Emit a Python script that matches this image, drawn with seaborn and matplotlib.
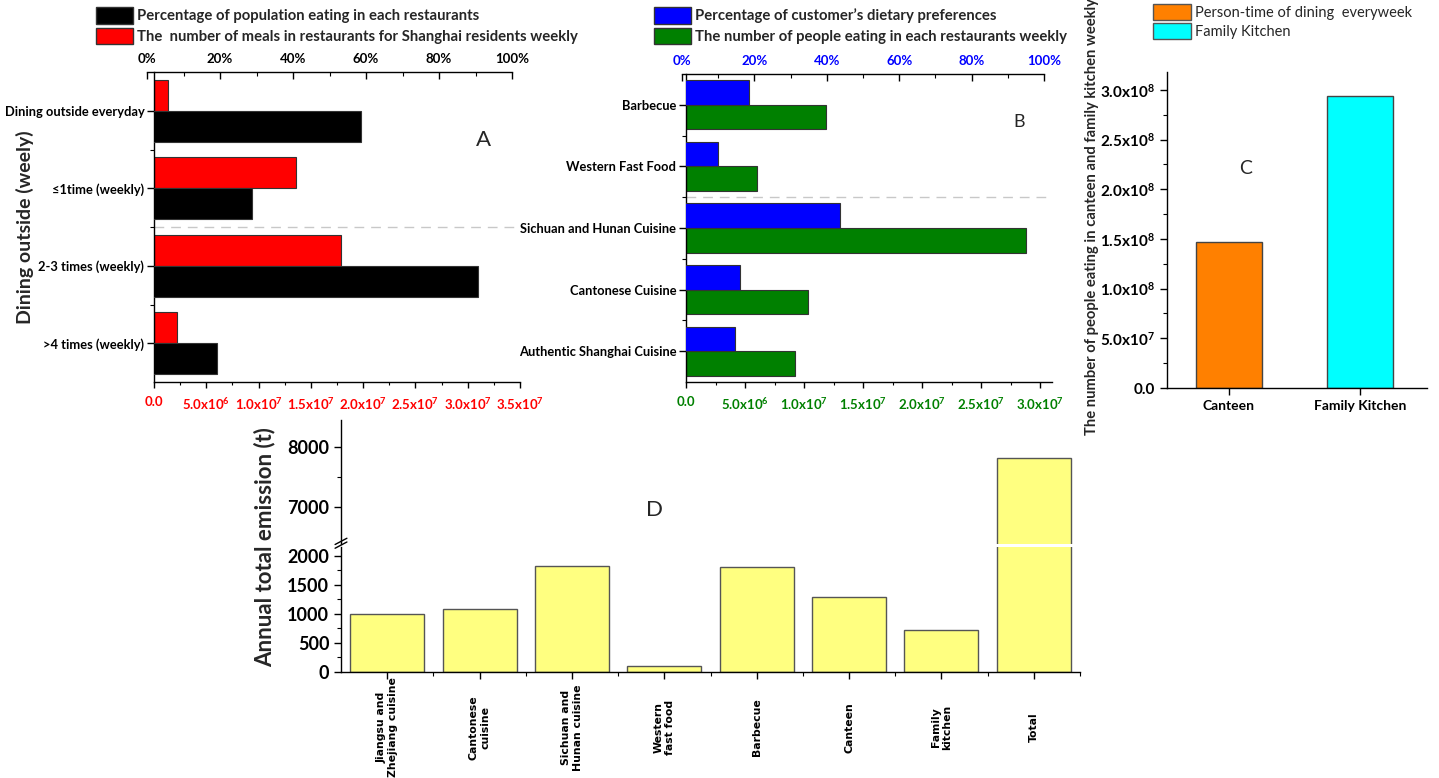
import numpy as np
import pandas as pd
import matplotlib
matplotlib.use("Agg")
import matplotlib.pyplot as plt
import seaborn as sns
from matplotlib.patches import Patch
from matplotlib.ticker import FixedLocator, MultipleLocator

# ---------------- data ----------------
a_categories = ["Dining outside everyday", "≤1time (weekly)", "2-3 times (weekly)", ">4 times (weekly)"]
a_percent_population = [58.7, 28.8, 90.6, 19.2]
a_meals_weekly = [1.35e6, 1.36e7, 1.79e7, 2.16e6]
a_top_ticks = [0, 20, 40, 60, 80, 100]
a_top_ticklabels = ["0%", "20%", "40%", "60%", "80%", "100%"]
a_bottom_ticks = [0, 5e6, 1e7, 1.5e7, 2e7, 2.5e7, 3e7, 3.5e7]
a_bottom_ticklabels = ["0.0", "5.0x10$^{6}$", "1.0x10$^{7}$", "1.5x10$^{7}$", "2.0x10$^{7}$",
                       "2.5x10$^{7}$", "3.0x10$^{7}$", "3.5x10$^{7}$"]

b_categories = ["Barbecue", "Western Fast Food", "Sichuan and Hunan Cuisine", "Cantonese Cuisine",
                "Authentic Shanghai Cuisine"]
b_percent_preference = [18.6, 9.9, 43.6, 16.1, 14.7]
b_people_weekly = [1.19e7, 6.05e6, 2.88e7, 1.03e7, 9.25e6]
b_top_ticks = [0, 20, 40, 60, 80, 100]
b_top_ticklabels = ["0%", "20%", "40%", "60%", "80%", "100%"]
b_bottom_ticks = [0, 5e6, 1e7, 1.5e7, 2e7, 2.5e7, 3e7]
b_bottom_ticklabels = ["0.0", "5.0x10$^{6}$", "1.0x10$^{7}$", "1.5x10$^{7}$", "2.0x10$^{7}$",
                       "2.5x10$^{7}$", "3.0x10$^{7}$"]

c_categories = ["Canteen", "Family Kitchen"]
c_people_weekly = [1.468e8, 2.943e8]
c_legend_labels = ["Person-time of dining  everyweek", "Family Kitchen"]
c_ticks = [0, 5e7, 1e8, 1.5e8, 2e8, 2.5e8, 3e8]
c_ticklabels = ["0.0", "5.0x10$^{7}$", "1.0x10$^{8}$", "1.5x10$^{8}$", "2.0x10$^{8}$",
                "2.5x10$^{8}$", "3.0x10$^{8}$"]

d_categories = ["Jiangsu and\nZhejiang cuisine", "Cantonese\ncuisine", "Sichuan and\nHunan cuisine",
                "Western\nfast food", "Barbecue", "Canteen", "Family\nkitchen", "Total"]
d_emission = [990, 1085, 1820, 95, 1805, 1285, 725, 7815]
d_low_ticks = [0, 500, 1000, 1500, 2000]
d_high_ticks = [7000, 8000]

# ---------------- style ----------------
sns.set_theme(style="ticks")
plt.rcParams["font.family"] = ["Lato", "DejaVu Sans"]
plt.rcParams.update({
    "mathtext.fontset": "custom",
    "mathtext.rm": "Lato",
    "mathtext.bf": "Lato:bold",
    "mathtext.default": "bf",
    "axes.edgecolor": "black",
    "axes.linewidth": 1.0,
    "xtick.color": "black",
    "ytick.color": "black",
    "xtick.major.size": 5, "ytick.major.size": 5,
    "xtick.minor.size": 3, "ytick.minor.size": 3,
    "xtick.major.width": 1, "ytick.major.width": 1,
    "xtick.minor.width": 0.8, "ytick.minor.width": 0.8,
})

W, H = 1439, 778
fig = plt.figure(figsize=(W / 100, H / 100), dpi=100)
fig.patch.set_facecolor("white")


def add_ax(l, t, r, b, **kw):
    return fig.add_axes([l / W, 1 - b / H, (r - l) / W, (b - t) / H], **kw)


EDGE = "#333333"


def hbar_panel(l, t, r, b, top_l, top_r, cats, pct, counts, pct_color, cnt_color,
               xmax, bticks, blabels, tticks, tlabels, top_label_color, bottom_label_color,
               fs_cat, pct_on_top):
    ax = add_ax(l, t, r, b)
    axt = add_ax(top_l, t, top_r, b, sharey=ax)
    y = np.arange(len(cats))
    off = -0.2 if pct_on_top else 0.2
    ax.barh(y - off, counts, height=0.4, color=cnt_color, edgecolor=EDGE, linewidth=0.8)
    bars = axt.barh(y + off, pct, height=0.4, color=pct_color, edgecolor=EDGE, linewidth=0.8)
    for p in bars:
        p.set_clip_path(ax.patch)
    ax.axhline(1.5, color="#c8c8c8", lw=1, ls=(0, (7, 5)), zorder=0)
    ax.set_ylim(len(cats) - 0.5, -0.5)
    ax.set_xlim(0, xmax)
    ax.set_yticks(y)
    ax.set_yticklabels(cats, fontsize=fs_cat, fontweight="bold")
    ax.yaxis.set_minor_locator(FixedLocator(y[:-1] + 0.5))
    ax.set_xticks(bticks)
    ax.set_xticklabels(blabels, fontsize=9.5, fontweight="bold", color=bottom_label_color)
    ax.xaxis.set_minor_locator(MultipleLocator(bticks[1] / 2))
    ax.tick_params(axis="x", which="major", direction="out", length=4, pad=6)
    ax.tick_params(axis="x", which="minor", direction="out", length=2.5)
    ax.tick_params(axis="y", which="both", direction="out", pad=2)
    for s in ["top", "right"]:
        ax.spines[s].set_visible(False)
    # top percentage axis
    axt.patch.set_visible(False)
    axt.set_xlim(0, 100)
    for s in ["left", "right", "bottom"]:
        axt.spines[s].set_visible(False)
    axt.xaxis.tick_top()
    axt.set_xticks(tticks)
    axt.set_xticklabels(tlabels, fontsize=9.5, fontweight="bold", color=top_label_color)
    axt.xaxis.set_minor_locator(MultipleLocator(10))
    axt.tick_params(axis="x", which="both", direction="in", pad=5)
    axt.tick_params(axis="y", which="both", left=False, labelleft=False)
    return ax, axt


# ---------------- Panel A ----------------
axA, axAt = hbar_panel(154, 72, 520, 382, 147, 512, a_categories, a_percent_population, a_meals_weekly,
                       "black", "#FF0000", 3.5e7, a_bottom_ticks, a_bottom_ticklabels,
                       a_top_ticks, a_top_ticklabels, "black", "#FF0000", 9.3, False)

# ---------------- Panel B ----------------
axB, axBt = hbar_panel(686, 74, 1052, 382, 682, 1044, b_categories, b_percent_preference, b_people_weekly,
                       "#0000FF", "#008000", 3.1e7, b_bottom_ticks, b_bottom_ticklabels,
                       b_top_ticks, b_top_ticklabels, "#0000FF", "#008000", 9.3, True)

# ---------------- Panel C ----------------
axC = add_ax(1167, 72, 1427, 388)
sns.barplot(x=c_categories, y=c_people_weekly, hue=c_categories, palette=["#FF8000", "#00FFFF"],
            saturation=1, width=0.5, edgecolor="#444444", linewidth=1, legend=False, ax=axC)
axC.set_xlim(-0.47, 1.51)
axC.set_ylim(0, 3.18e8)
axC.set_yticks(c_ticks)
axC.set_yticklabels(c_ticklabels, fontsize=11, fontweight="bold")
axC.yaxis.set_minor_locator(MultipleLocator(2.5e7))
axC.set_xticks(range(len(c_categories)))
axC.set_xticklabels(c_categories, fontsize=10, fontweight="bold")
axC.set_xlabel("")
axC.set_ylabel("")
axC.tick_params(axis="both", which="both", direction="out")
for s in ["top", "right"]:
    axC.spines[s].set_visible(False)

# ---------------- Panel D (broken axis) ----------------
ax_hi = add_ax(341, 420, 1080, 544)
ax_lo = add_ax(341, 547, 1080, 672)
for ax in (ax_hi, ax_lo):
    sns.barplot(x=d_categories, y=d_emission, color="#FFFF80", saturation=1, width=0.8,
                edgecolor="#555555", linewidth=1, ax=ax)
    ax.set_xlim(-0.5, len(d_categories) - 0.5)
    ax.set_xlabel("")
    ax.set_ylabel("")
    for s in ["top", "right"]:
        ax.spines[s].set_visible(False)
    ax.tick_params(axis="both", which="both", direction="out")

ax_hi.set_ylim(6380, 8445)
ax_hi.set_yticks(d_high_ticks)
ax_hi.set_yticklabels([str(v) for v in d_high_ticks], fontsize=13, fontweight="bold")
ax_hi.yaxis.set_minor_locator(FixedLocator([7500]))
ax_hi.spines["bottom"].set_visible(False)
ax_hi.tick_params(axis="x", which="both", bottom=False, labelbottom=False)

ax_lo.set_ylim(0, 2150)
ax_lo.set_yticks(d_low_ticks)
ax_lo.set_yticklabels([str(v) for v in d_low_ticks], fontsize=13, fontweight="bold")
ax_lo.yaxis.set_minor_locator(MultipleLocator(250))
ax_lo.set_xticks(range(len(d_categories)))
ax_lo.set_xticklabels(d_categories, rotation=90, fontsize=7.8, fontweight="bold",
                      family="DejaVu Sans", ha="center", va="center")
ax_lo.tick_params(axis="x", which="major", pad=35)
ax_lo.xaxis.set_minor_locator(FixedLocator(np.arange(len(d_categories)) + 0.5))
for dy in (0.0, 0.03):
    ax_lo.plot([-0.008, 0.008], [1.0 + dy - 0.01, 1.0 + dy + 0.04], transform=ax_lo.transAxes,
               color="black", lw=1, clip_on=False)

# ---------------- legends ----------------
leg_kw = dict(frameon=False, borderpad=0, borderaxespad=0, handlelength=2.5, handleheight=1.34,
              handletextpad=0.28, labelspacing=0.27, loc="upper left")
fig.legend([Patch(fc="black", ec=EDGE), Patch(fc="#FF0000", ec=EDGE)],
           ["Percentage of population eating in each restaurants",
            "The  number of meals in restaurants for Shanghai residents weekly"],
           bbox_to_anchor=(96 / W, 1 - 7 / H), prop={"weight": "bold", "size": 10.7}, **leg_kw)
fig.legend([Patch(fc="#0000FF", ec=EDGE), Patch(fc="#008000", ec=EDGE)],
           ["Percentage of customer\u2019s dietary preferences",
            "The number of people eating in each restaurants weekly"],
           bbox_to_anchor=(654 / W, 1 - 7 / H), prop={"weight": "bold", "size": 10.7}, **leg_kw)
fig.legend([Patch(fc="#FF8000", ec="#555555"), Patch(fc="#00FFFF", ec="#555555")],
           c_legend_labels, bbox_to_anchor=(1153 / W, 1 - 4 / H), prop={"size": 10.5},
           **{**leg_kw, "handlelength": 2.6, "handleheight": 1.3, "labelspacing": 0.2})

# ---------------- axis titles and panel letters ----------------
fig.text(25 / W, 1 - 227 / H, "Dining outside (weely)", rotation=90, ha="center", va="center",
         fontsize=14, fontweight="bold")
fig.text(1092 / W, 1 - 217 / H, "The number of people eating in canteen and family kitchen weekly",
         rotation=90, ha="center", va="center", fontsize=10.6, fontweight="bold")
fig.text(265 / W, 1 - 547 / H, "Annual total emission (t)", rotation=90, ha="center", va="center",
         fontsize=16, fontweight="bold")
for letter, x, y, fs in [("A", 484, 140, 16), ("B", 1019, 122, 13), ("C", 1246, 168, 14), ("D", 654, 510, 16)]:
    fig.text(x / W, 1 - y / H, letter, ha="center", va="center", fontsize=fs)

fig.savefig("out.png", dpi=100, facecolor="white")
